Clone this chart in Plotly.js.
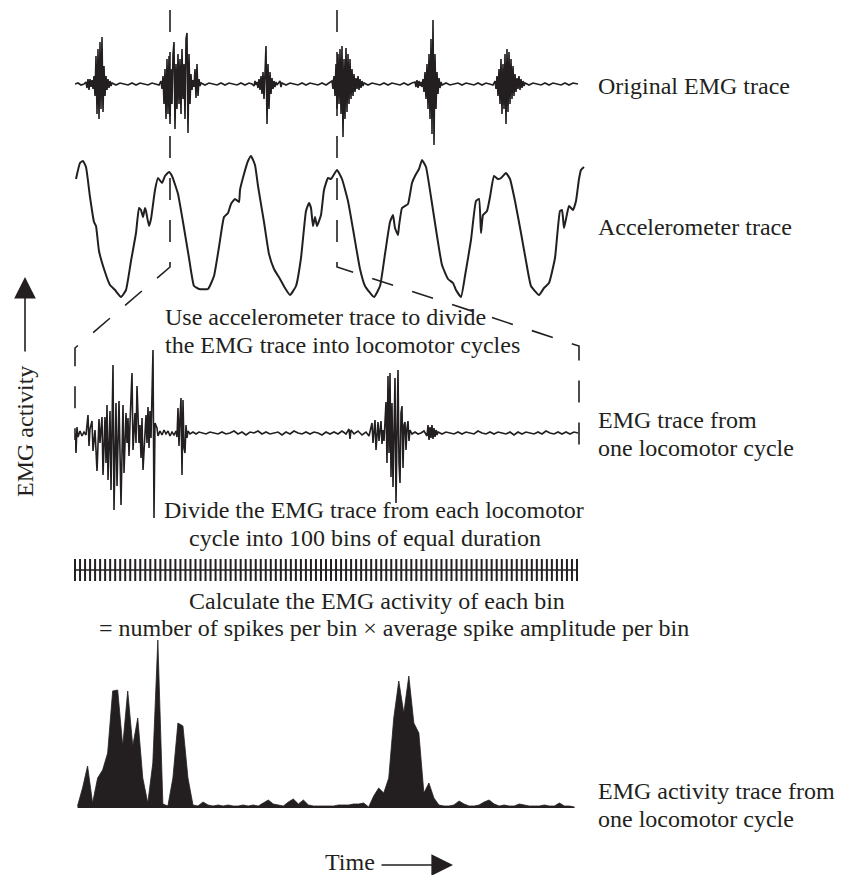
<!DOCTYPE html>
<html>
<head>
<meta charset="utf-8">
<script src="https://cdn.plot.ly/plotly-3.0.1.min.js"></script>
<style>html,body{margin:0;padding:0;background:#fff;}#chart{width:843px;height:875px;}</style>
</head>
<body>
<div id="chart"></div>
<script>
// ---------- DATA ----------
// Original EMG trace: time (samples) and amplitude
const emgTime = [0,3,6,9,
 11,12,13,14,15,16,17,18,19,20,21,22,23,24,25,26,27,28,29,30,31,32,33,34,35,36,37,
 41,45,49,53,57,61,65,69,73,77,81,84,
 86,87,88,89,90,91,92,93,94,95,96,97,98,99,100,101,102,103,104,105,106,107,108,109,110,111,112,113,114,115,116,117,118,119,120,121,122,123,124,125,126,
 130,134,138,142,146,150,154,158,162,166,170,174,177,179,180,181,
 182,183,184,185,186,187,188,189,190,191,192,193,194,195,196,197,198,199,200,201,202,204,205,206,207,
 211,215,219,223,227,231,235,239,243,247,251,254,
 257,258,259,260,261,262,263,264,265,266,267,268,269,270,271,272,273,274,275,276,277,278,279,280,281,282,283,284,285,286,287,288,289,
 293,297,301,305,309,313,317,321,325,329,333,337,
 340,341,342,343,344,345,346,347,348,349,350,351,352,353,354,355,356,357,358,359,360,361,362,363,364,365,366,367,
 371,375,379,383,387,391,395,399,403,407,411,415,418,
 420,421,422,423,424,425,426,427,428,429,430,431,432,433,434,435,436,437,438,439,440,441,442,443,444,445,446,447,448,449,450,
 454,458,462,466,470,474,478,482,486,490,494,498,503];
const emgValue = [0,1,-1,0,
 2,-4,5,-6,5,-3,4,-5,8,-12,28,-30,35,-35,42,-25,47,-28,18,-12,8,-6,5,-4,3,-2,1,
 -1,1,0,-1,1,-1,1,0,-1,1,0,-1,
 3,-5,8,-20,15,-35,25,-30,28,-40,15,-20,30,42,-45,20,-25,30,-20,25,-30,35,-15,20,-35,45,51,-49,30,-20,10,-6,4,-3,15,-14,20,-12,5,-2,1,
 -1,1,0,-1,1,-1,1,0,-1,1,-1,1,0,-2,3,-1,
 2,-4,5,-6,8,-10,12,-15,25,38,-40,20,-25,12,-10,6,-5,3,-3,2,-1,1,3,-3,1,
 -1,1,0,-1,1,-1,1,0,-1,1,-1,1,
 3,-5,8,-12,20,-25,30,-20,35,-30,38,-53,25,-35,36,-28,30,-20,25,-15,15,-12,10,-8,6,-5,8,-6,5,-4,3,-2,1,
 -1,1,0,-1,1,-1,1,0,-1,1,-1,1,
 2,-3,4,-4,3,-2,2,-3,5,-8,12,-15,20,-25,30,-35,45,-50,64,-61,30,-25,12,-10,6,-4,2,-1,
 1,-1,0,1,-1,1,0,-1,1,-1,1,0,-1,
 3,-5,8,-12,15,-20,25,-30,20,-25,30,-40,35,-28,32,-20,25,-15,18,-12,10,-8,6,-5,8,-6,5,-4,3,-2,1,
 -1,1,0,-1,1,-1,1,0,-1,1,-1,1,0];

// Accelerometer trace
const accTime = [1,5,8,11,15,19,21,24,30,35,40,46,51,56,61,64,66,68,70,71,74,76,80,83,87,90,94,97,103,108,114,119,124,133,139,144,149,153,156,160,164,165,169,173,176,180,183,189,194,199,205,210,215,221,226,231,234,236,238,240,242,246,249,253,256,262,267,273,278,285,290,299,305,310,315,318,320,323,324,327,330,333,337,340,344,347,351,356,362,367,373,378,381,386,390,396,401,404,406,408,412,415,419,423,426,431,435,440,446,451,456,464,469,474,480,485,487,489,491,494,498,501,504,506,509];
const accValue = [121,137,139,133,103,78,74,49,28,15,10,3,10,39,67,92,90,83,92,89,74,81,110,122,117,124,128,124,106,78,42,14,11,11,24,53,83,87,96,101,98,110,126,139,144,135,114,78,46,31,21,12,5,14,42,89,97,92,74,83,74,85,110,122,121,130,121,99,71,31,14,3,14,46,78,85,72,65,74,92,94,96,117,124,131,140,133,103,64,35,21,17,10,3,24,60,99,101,67,85,89,103,124,121,122,127,121,99,67,39,14,5,12,17,42,89,90,72,81,94,90,99,121,130,133];

// EMG trace from one locomotor cycle
const cycleTime = [0,1,2,3,5,7,9,11,13,14,15,17,18,20,22,24,25,27,28,30,31,32,33,35,36,38,39,41,42,44,45,46,48,49,51,52,53,54,55,57,58,60,61,62,64,65,66,67,68,70,71,72,73,74,75,76,78,79,80,82,83,85,87,89,91,93,95,97,99,101,102,103,104,105,106,107,108,109,110,111,112,113,
 115,118,121,124,127,131,135,139,143,147,151,155,159,163,167,171,175,179,183,187,191,195,199,203,207,211,215,219,223,227,231,235,239,243,247,251,255,259,263,267,271,
 274,275,276,279,283,287,291,294,295,
 297,298,299,300,301,302,303,304,305,306,307,308,309,310,311,312,313,314,315,316,317,318,319,320,321,322,323,324,325,326,327,328,329,330,331,332,333,334,335,
 337,340,343,346,349,352,
 353,354,355,356,357,358,359,360,361,362,363,
 367,371,375,379,383,387,391,395,399,403,407,411,415,419,423,427,431,435,439,443,447,451,455,459,463,467,471,475,479,483,487,491,495,499,503];
const cycleValue = [0,-20,6,-4,2,-3,1,-2,18,-13,4,12,-18,3,-38,14,-10,16,-42,16,-30,28,-47,22,-57,68,-77,30,-53,32,-20,-72,28,-40,20,-10,15,-23,10,60,-17,20,-10,47,-10,8,-25,15,-37,5,18,-10,26,-15,22,-5,83,-85,10,5,-3,2,-2,3,-1,2,-3,1,-2,2,-4,25,-13,15,35,-42,33,-15,-20,8,-5,2,
 -1,1,-1,1,0,-1,1,0,-1,1,-1,0,2,-1,1,-2,1,0,2,-1,1,-1,0,1,-2,1,-1,2,0,-1,1,-1,1,0,-2,1,-1,1,-1,2,-1,
 4,-6,3,-1,2,-2,1,-3,2,
 10,-10,6,13,-17,5,11,-8,4,12,-11,3,-8,10,31,-30,57,-20,60,-44,30,-54,20,55,-70,20,63,-30,-50,20,27,-35,8,11,-17,5,12,-8,3,
 -1,1,-1,0,2,-3,
 8,-7,6,-5,8,-6,5,-4,3,-2,1,
 -1,1,0,-1,1,-1,1,0,-1,2,0,-1,1,-1,1,0,-1,1,-2,1,-1,1,0,-1,1,-1,2,0,-1,1,-1,1,-1,1,0];

// 100 bins of equal duration: bin edges
const binEdges = [0,1,2,3,4,5,6,7,8,9,10,11,12,13,14,15,16,17,18,19,20,21,22,23,24,25,26,27,28,29,30,31,32,33,34,35,36,37,38,39,40,41,42,43,44,45,46,47,48,49,50,51,52,53,54,55,56,57,58,59,60,61,62,63,64,65,66,67,68,69,70,71,72,73,74,75,76,77,78,79,80,81,82,83,84,85,86,87,88,89,90,91,92,93,94,95,96,97,98,99,100];

// EMG activity per bin (100 bins)
const binActivity = [2,20,42,5,30,38,55,117,118,62,117,62,90,30,5,45,168,4,2,30,
 85,82,30,3,2,6,3,2,3,2,3,2,2,3,2,3,2,5,8,4,
 3,2,6,9,4,8,3,2,2,2,2,2,3,3,3,4,4,5,1,12,
 20,15,30,90,127,95,132,85,75,15,25,10,3,2,2,3,7,4,2,2,
 3,6,8,4,2,3,2,2,4,3,2,2,2,3,2,2,5,2,2,1];

// Text labels
const labels = {
  emg: 'Original EMG trace',
  acc: 'Accelerometer trace',
  use1: 'Use accelerometer trace to divide',
  use2: 'the EMG trace into locomotor cycles',
  cyc1: 'EMG trace from',
  cyc2: 'one locomotor cycle',
  div1: 'Divide the EMG trace from each locomotor',
  div2: 'cycle into 100 bins of equal duration',
  calc1: 'Calculate the EMG activity of each bin',
  calc2: '= number of spikes per bin \u00d7 average spike amplitude per bin',
  act1: 'EMG activity trace from',
  act2: 'one locomotor cycle',
  yTitle: 'EMG activity',
  xTitle: 'Time'
};

// ---------- LAYOUT HELPERS ----------
const W = 843, H = 875;
const INK = '#231f20';
const FONT = 'Liberation Serif, Times New Roman, serif';
const px = x => x / W;
const py = y => 1 - y / H;
const xd = (a, b) => [a / W, b / W];
const yd = (top, bottom) => [1 - bottom / H, 1 - top / H];
const hidden = {visible: false, fixedrange: true, showgrid: false, zeroline: false};

// tick segments built from bin edges
const tickX = [], tickY = [];
binEdges.forEach(e => { tickX.push(e, e, null); tickY.push(0, 1, null); });
const binCenters = binActivity.map((_, i) => binEdges[i] + 0.5);

const traces = [
  {x: emgTime, y: emgValue, xaxis: 'x', yaxis: 'y', type: 'scatter', mode: 'lines',
   line: {color: INK, width: 1.6}, hoverinfo: 'skip'},
  {x: accTime, y: accValue, xaxis: 'x', yaxis: 'y2', type: 'scatter', mode: 'lines',
   line: {color: INK, width: 2, shape: 'spline', smoothing: 0.4}, hoverinfo: 'skip'},
  {x: cycleTime, y: cycleValue, xaxis: 'x2', yaxis: 'y3', type: 'scatter', mode: 'lines',
   line: {color: INK, width: 1.6}, hoverinfo: 'skip'},
  {x: tickX, y: tickY, xaxis: 'x3', yaxis: 'y4', type: 'scatter', mode: 'lines',
   line: {color: INK, width: 2}, hoverinfo: 'skip'},
  {x: [binEdges[0], binEdges[binEdges.length - 1]], y: [0.5, 0.5], xaxis: 'x3', yaxis: 'y4',
   type: 'scatter', mode: 'lines', line: {color: INK, width: 1.5}, hoverinfo: 'skip'},
  {x: binCenters, y: binActivity, xaxis: 'x4', yaxis: 'y5', type: 'scatter', mode: 'lines',
   fill: 'tozeroy', fillcolor: INK, line: {color: INK, width: 0.8}, hoverinfo: 'skip'}
];

function txt(s, x, y, anchor) {
  return {text: s, xref: 'paper', yref: 'paper', x: px(x), y: py(y),
          xanchor: anchor || 'left', yanchor: 'middle', showarrow: false,
          font: {family: FONT, size: 24, color: INK}};
}
function arrow(tipX, tipY, ax, ay) {
  return {text: '', xref: 'paper', yref: 'paper', x: px(tipX), y: py(tipY),
          ax: ax, ay: ay, axref: 'pixel', ayref: 'pixel', showarrow: true,
          arrowhead: 2, arrowsize: 2.7, arrowwidth: 1.6, arrowcolor: INK, standoff: 0};
}

const annotations = [
  txt(labels.emg, 596, 86),
  txt(labels.acc, 596, 227),
  txt(labels.use1, 163, 317),
  txt(labels.use2, 163, 345),
  txt(labels.cyc1, 596, 420),
  txt(labels.cyc2, 596, 448),
  txt(labels.div1, 162, 510),
  txt(labels.div2, 187, 538),
  txt(labels.calc1, 187, 601),
  txt(labels.calc2, 97, 628),
  txt(labels.act1, 596, 791),
  txt(labels.act2, 596, 819),
  txt(labels.xTitle, 323, 862),
  Object.assign(txt(labels.yTitle, 25, 432, 'center'), {textangle: -90}),
  arrow(25, 277, 0, 76),
  arrow(453, 865, -73, 0)
];

const dash = {color: INK, width: 1.6, dash: '22px,20px'};
const pathOf = pts => pts.map((p, i) => (i ? 'L' : 'M') + px(p[0]) + ',' + py(p[1])).join(' ');
const shapes = [
  {type: 'path', xref: 'paper', yref: 'paper', line: dash,
   path: pathOf([[170, 10], [170, 267], [75, 348], [75, 440]])},
  {type: 'path', xref: 'paper', yref: 'paper', line: dash,
   path: pathOf([[337, 10], [337, 267], [579, 346], [579, 446]])}
];

const layout = {
  width: W, height: H, autosize: false,
  margin: {l: 0, r: 0, t: 0, b: 0, pad: 0},
  paper_bgcolor: '#ffffff', plot_bgcolor: 'rgba(0,0,0,0)',
  showlegend: false,
  font: {family: FONT, color: INK},
  xaxis:  Object.assign({}, hidden, {domain: xd(75, 585), range: [0, 510], anchor: 'y'}),
  yaxis:  Object.assign({}, hidden, {domain: yd(10, 158), range: [-74, 74], anchor: 'x'}),
  yaxis2: Object.assign({}, hidden, {domain: yd(140, 300), range: [0, 160], anchor: 'x'}),
  xaxis2: Object.assign({}, hidden, {domain: xd(75, 585), range: [0, 510], anchor: 'y3'}),
  yaxis3: Object.assign({}, hidden, {domain: yd(333, 533), range: [-100, 100], anchor: 'x2'}),
  xaxis3: Object.assign({}, hidden, {domain: xd(70, 582), range: [-1, 101], anchor: 'y4'}),
  yaxis4: Object.assign({}, hidden, {domain: yd(559, 581), range: [0, 1], anchor: 'x3'}),
  xaxis4: Object.assign({}, hidden, {domain: xd(70, 582), range: [-1, 101], anchor: 'y5'}),
  yaxis5: Object.assign({}, hidden, {domain: yd(620, 808), range: [0, 188], anchor: 'x4'}),
  annotations: annotations,
  shapes: shapes
};

Plotly.newPlot('chart', traces, layout, {displayModeBar: false, staticPlot: true});
</script>
</body>
</html>
